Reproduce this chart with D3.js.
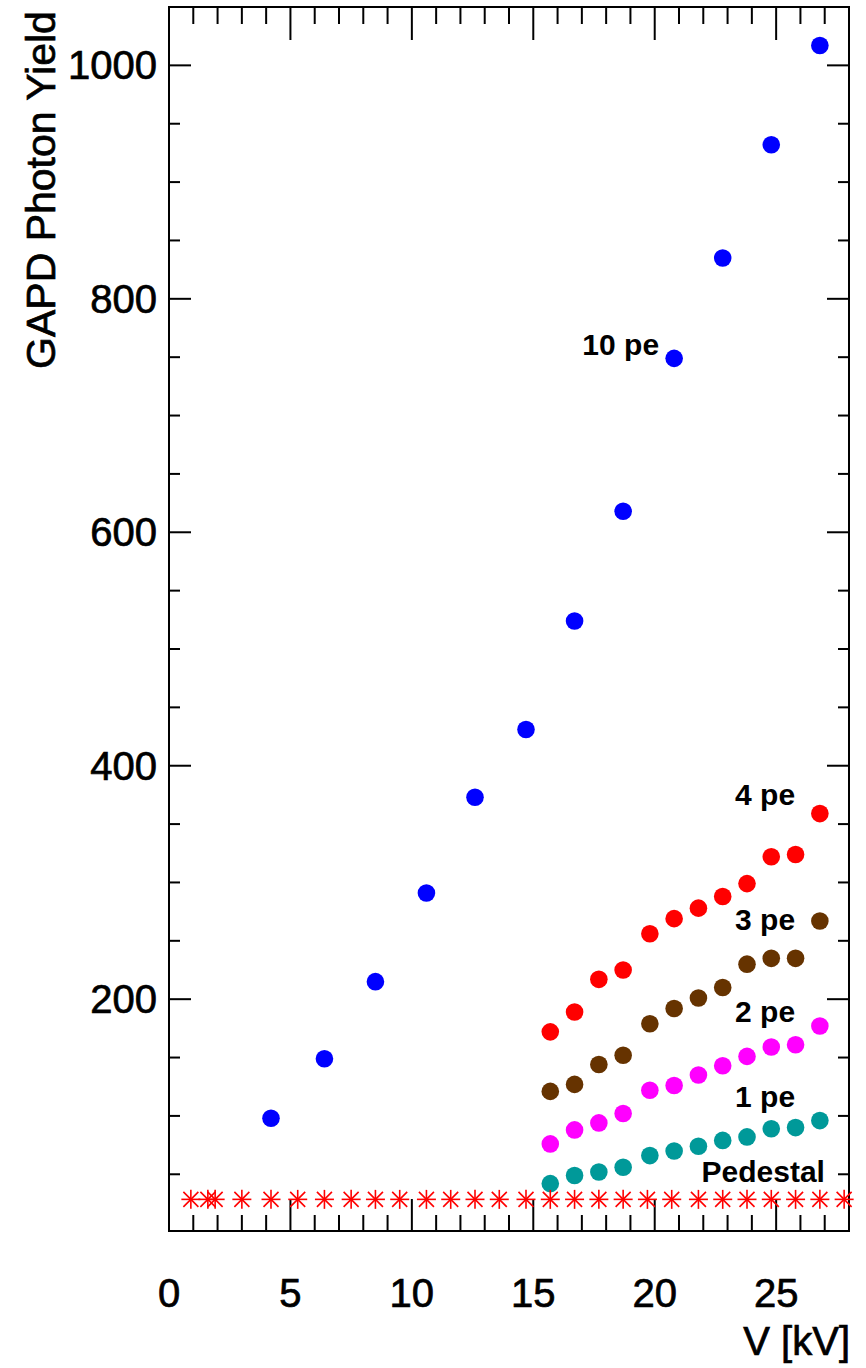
<!DOCTYPE html>
<html>
<head>
<meta charset="utf-8">
<script src="https://cdn.jsdelivr.net/npm/d3@7"></script>
<style>
  html, body { margin: 0; padding: 0; background: #fff; }
  svg { display: block; font-family: "Liberation Sans", Arial, sans-serif; }
  .heavy { stroke: #000; stroke-width: 0.7px; }
</style>
</head>
<body>
<svg id="chart" width="866" height="1368"></svg>
<script>
// Pedestal positions (kV) and yield
const pedestalV = [0.9, 1.6, 1.9, 3.0, 4.2, 5.3, 6.4, 7.5, 8.5, 9.5, 10.6, 11.6, 12.6, 13.6,
                   14.7, 15.7, 16.7, 17.7, 18.7, 19.7, 20.7, 21.8, 22.8, 23.8, 24.8, 25.8, 26.8, 27.8];
const pedestalYield = [28.5, 28.5, 28.5, 28.5, 28.5, 28.5, 28.5, 28.5, 28.5, 28.5, 28.5, 28.5, 28.5, 28.5,
                       28.5, 28.5, 28.5, 28.5, 28.5, 28.5, 28.5, 28.5, 28.5, 28.5, 28.5, 28.5, 28.5, 28.5];

// 10 pe scan
const voltage10 = [4.2, 6.4, 8.5, 10.6, 12.6, 14.7, 16.7, 18.7, 20.8, 22.8, 24.8, 26.8];
const yield10pe = [98, 149, 215, 291, 373, 431, 524, 618, 749, 835, 932, 1017];

// 1-4 pe scans
const voltageLow = [15.7, 16.7, 17.7, 18.7, 19.8, 20.8, 21.8, 22.8, 23.8, 24.8, 25.8, 26.8];
const yield4pe = [172, 189, 217, 225, 256, 269, 278, 288, 299, 322, 324, 359];
const yield3pe = [121, 127, 144, 152, 179, 192, 201, 210, 230, 235, 235, 267];
const yield2pe = [76, 88, 94, 102, 122, 126, 135, 143, 151, 159, 161, 177];
const yield1pe = [42, 49, 52, 56, 66, 70, 74, 79, 82, 89, 90, 96];

// Axis ticks
const xTickLabels = [0, 5, 10, 15, 20, 25];
const yTickLabels = [200, 400, 600, 800, 1000];

const svg = d3.select("#chart");
const plotL = 169, plotR = 849, plotT = 7, plotB = 1231;

const x = d3.scaleLinear().domain([0, 28]).range([plotL, plotR]);
const y = d3.scaleLinear().domain([1.4, 1050]).range([plotB, plotT]);

// ---- frame and ticks ----
const axisG = svg.append("g").attr("stroke", "#000").attr("stroke-width", 2);
axisG.append("rect")
  .attr("x", plotL).attr("y", plotT)
  .attr("width", plotR - plotL).attr("height", plotB - plotT)
  .attr("fill", "none");

const xMinor = d3.range(1, 28);
const xMajorSet = new Set([5, 10, 15, 20, 25]);
xMinor.forEach(v => {
  const len = xMajorSet.has(v) ? 32 : 16;
  axisG.append("line").attr("x1", x(v)).attr("x2", x(v)).attr("y1", plotB).attr("y2", plotB - len);
  axisG.append("line").attr("x1", x(v)).attr("x2", x(v)).attr("y1", plotT).attr("y2", plotT + len + 1);
});

const yMinor = d3.range(50, 1050, 50);
yMinor.forEach(v => {
  const len = v % 200 === 0 ? 22 : 11;
  axisG.append("line").attr("x1", plotL).attr("x2", plotL + len).attr("y1", y(v)).attr("y2", y(v));
  axisG.append("line").attr("x1", plotR).attr("x2", plotR - len).attr("y1", y(v)).attr("y2", y(v));
});

// tick labels
svg.append("g").selectAll("text").data(xTickLabels).join("text")
  .attr("class", "heavy")
  .attr("x", d => x(d)).attr("y", 1307)
  .attr("text-anchor", "middle")
  .attr("font-size", 40)
  .text(d => d);

svg.append("g").selectAll("text").data(yTickLabels).join("text")
  .attr("class", "heavy")
  .attr("x", 157).attr("y", d => y(d) + 14)
  .attr("text-anchor", "end")
  .attr("font-size", 40)
  .text(d => d);

// axis titles
svg.append("text")
  .attr("class", "heavy")
  .attr("transform", "translate(55,190) rotate(-90)")
  .attr("text-anchor", "middle")
  .attr("font-size", 41)
  .text("GAPD Photon Yield");

svg.append("text")
  .attr("class", "heavy")
  .attr("x", 850).attr("y", 1355)
  .attr("text-anchor", "end")
  .attr("font-size", 40)
  .text("V [kV]");

// ---- data ----
const r = 8.8;
function dots(xs, ys, color) {
  svg.append("g").selectAll("circle").data(xs).join("circle")
    .attr("cx", (d) => x(d))
    .attr("cy", (d, i) => y(ys[i]))
    .attr("r", r)
    .attr("fill", color);
}
dots(voltage10, yield10pe, "#0000ff");
dots(voltageLow, yield4pe, "#ff0000");
dots(voltageLow, yield3pe, "#663300");
dots(voltageLow, yield2pe, "#ff00ff");
dots(voltageLow, yield1pe, "#009999");

// pedestal asterisks
const star = svg.append("g").attr("stroke", "#ff0000").attr("stroke-width", 1.6);
pedestalV.forEach((v, i) => {
  const cx = x(v), cy = y(pedestalYield[i]);
  const h = 9.5, d = 7.5;
  star.append("line").attr("x1", cx - h).attr("x2", cx + h).attr("y1", cy).attr("y2", cy);
  star.append("line").attr("x1", cx).attr("x2", cx).attr("y1", cy - h).attr("y2", cy + h);
  star.append("line").attr("x1", cx - d).attr("x2", cx + d).attr("y1", cy - d).attr("y2", cy + d);
  star.append("line").attr("x1", cx - d).attr("x2", cx + d).attr("y1", cy + d).attr("y2", cy - d);
});

// series annotations
const labelText = ["10 pe", "4 pe", "3 pe", "2 pe", "1 pe", "Pedestal"];
const labelV = [20.18, 25.78, 25.78, 25.78, 25.78, 27.01];
const labelY = [751.8, 366.3, 259.3, 180.7, 107.9, 43.6];
svg.append("g").selectAll("text").data(labelText).join("text")
  .attr("x", (d, i) => x(labelV[i]))
  .attr("y", (d, i) => y(labelY[i]))
  .attr("text-anchor", "end")
  .attr("font-size", 30)
  .attr("font-weight", "bold")
  .text(d => d);
</script>
</body>
</html>
